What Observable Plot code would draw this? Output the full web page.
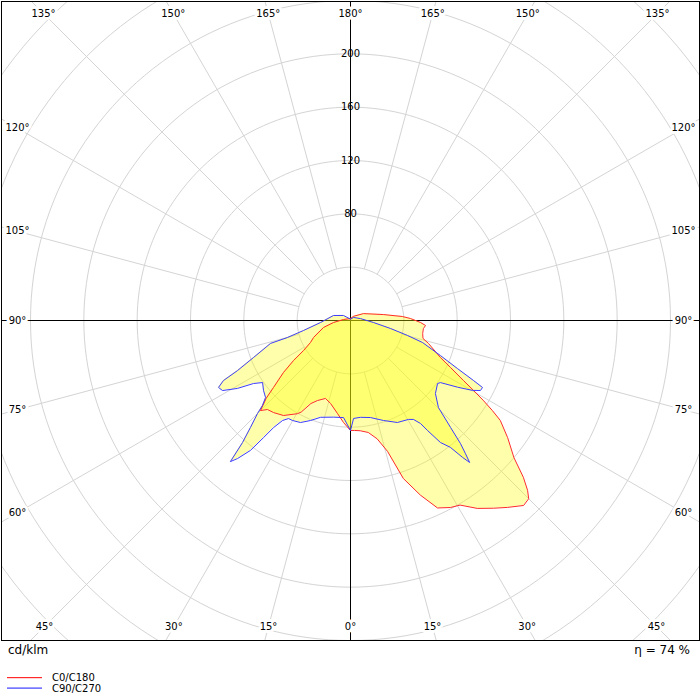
<!DOCTYPE html>
<html>
<head>
<meta charset="utf-8">
<script src="https://cdn.jsdelivr.net/npm/d3@7"></script>
<script src="https://cdn.jsdelivr.net/npm/@observablehq/plot@0.6"></script>
<style>
  html, body { margin: 0; padding: 0; background: #fff; }
  #root { position: relative; width: 700px; height: 700px; font-family: "DejaVu Sans", sans-serif; color: #000; }
  #chart svg { display: block; overflow: hidden; }
  .foot { position: absolute; font-size: 12px; line-height: 14px; white-space: nowrap; }
  #legend { position: absolute; left: 0; top: 668px; }
</style>
</head>
<body>
<div id="root">
  <div id="chart"></div>
  <div class="foot" style="left:8px; top:643px;">cd/klm</div>
  <div class="foot" style="right:10px; top:643px;">η = 74 %</div>
  <div id="legend"></div>
</div>
<script>
// ---- Data (cd/klm vs gamma angle, degrees) ----
// C0 (right half, red)
const gammaC0 = [0,2,5,9,12.7,15.8,18.5,21.8,24.9,28.1,30.7,34,37.3,40,43.1,45,46.2,47.8,50,53.3,56.3,57.6,59,60.4,62,64.8,67.6,73.6,76.1,79.8,83.7,86.2,88.4,91.9,94.4,100.3,118,143,180];
const valuesC0 = [82.5,82.5,83,85,91,102,125,141,155,159,161,170,177,183,190,189,184,175,160,147,135,126,116,106,96,83,73,61,56,55,55,56.4,52.5,45,39,25,11,4,1.5];
// C180 (left half, red)
const gammaC180 = [0,3.9,8,13.5,17.8,22.4,25.5,28.3,29.7,35.2,39.9,43,45,47.3,49,52.2,54.9,57.4,61.2,65.3,75.5,83.3,98,180];
const valuesC180 = [82.5,76.7,70.4,64,61.4,64.9,69,78,80.5,87.2,90,91.3,95.5,86,76.5,63.6,52.2,41.8,34.2,30.5,20.9,12.8,5.3,1.5];
// C90 (right half, blue)
const gammaC90 = [0,1.8,5.9,11.6,18.3,24.7,30.4,32.5,34.2,35,36.4,38.2,39.3,40,40.8,41.8,43.1,45.3,49.3,54.1,55.4,58.1,60.2,61.7,63.1,64,65.8,68.7,73,75.3,78.7,85,101,135,180];
const valuesC90 = [82.5,73.5,73,74.3,79,84.2,86,88,93.4,100.7,113.7,121,132.7,139,132,123.7,109.8,92.8,84,80.6,82,94.7,105.5,110.7,111,102.6,88,72.4,56.5,44.2,30.6,17.3,7.6,3.2,1];
// C270 (left half, blue)
const gammaC270 = [0,4.1,10,17.2,21.8,26.1,30.1,32.3,34.2,35.7,36.6,37.6,39.3,40.4,41.5,43.1,45,46,47.8,51.2,54.8,57,59,61.3,63.1,64.7,66.1,69.1,74,74.9,78,86.2,106.4,125.5,180];
const valuesC270 = [82.5,73,73.6,76,80.8,85.2,86.7,87,90.7,98.9,109.4,123,133.8,139,122.2,109.8,98.6,91.8,86,83.7,80.7,86.8,98.9,109.4,111,105.4,92.7,77.9,62.4,49,36,22.5,13.3,6.5,1];

const ringValues = [40,80,120,160,200,240,280,320,360];
const ringLabels = [80,120,160,200];
const angleTicks = [0,15,30,45,60,75,90,105,120,135,150,165,180];
const seriesNames = ["C0/C180", "C90/C270"];
const seriesColors = ["#ff2a2a", "#3c3cff"];

// ---- Geometry helpers ----
const rad = Math.PI / 180;
const k = 4 / 3; // px per cd/klm
const toXY = (g, v, side) => ({x: side * v * Math.sin(g * rad), y: -v * Math.cos(g * rad)});
function polygon(gR, vR, gL, vL) {
  const pts = gR.map((g, i) => toXY(g, vR[i], 1));
  for (let i = gL.length - 1; i >= 0; i--) pts.push(toXY(gL[i], vL[i], -1));
  return pts;
}
const redPoly = polygon(gammaC0, valuesC0, gammaC180, valuesC180);
const bluePoly = polygon(gammaC90, valuesC90, gammaC270, valuesC270);

const ringPts = ringValues.flatMap(r => d3.range(0, 361, 2).map(a => ({ring: r, x: r * Math.cos(a * rad), y: r * Math.sin(a * rad)})));
const radials = angleTicks.filter(a => a % 90 !== 0).flatMap(a => [1, -1].map(s => ({a, s})));

const xl = 262.5 - 17 / k, yt = 240 - 13 / k, yb = 240 - 14 / k;
const angleLabels = angleTicks.flatMap(a => {
  const sides = (a === 0 || a === 180) ? [1] : [1, -1];
  return sides.map(s => {
    const sx = Math.sin(a * rad), cy = -Math.cos(a * rad);
    const tx = sx > 1e-9 ? xl / sx : Infinity;
    const ty = cy > 1e-9 ? yt / cy : cy < -1e-9 ? yb / -cy : Infinity;
    const t = Math.min(tx, ty);
    return {x: s * t * sx, y: t * cy, label: `${a}°`};
  });
});

const chart = Plot.plot({
  width: 700, height: 641,
  marginTop: 1, marginRight: 1, marginBottom: 1, marginLeft: 1,
  x: {domain: [-262.5, 262.5], range: [0, 700], axis: null},
  y: {domain: [240, -240], range: [0, 640], axis: null},
  style: {fontFamily: "DejaVu Sans", fontSize: "10px", background: "white", overflow: "hidden"},
  marks: [
    Plot.line(ringPts, {x: "x", y: "y", z: "ring", stroke: "#d4d4d4", strokeWidth: 1, clip: true}),
    Plot.link(radials, {
      x1: d => d.s * 40 * Math.sin(d.a * rad), y1: d => -40 * Math.cos(d.a * rad),
      x2: d => d.s * 420 * Math.sin(d.a * rad), y2: d => -420 * Math.cos(d.a * rad),
      stroke: "#d4d4d4", strokeWidth: 1, clip: true
    }),
    Plot.ruleY([0], {stroke: "black"}),
    Plot.ruleX([0], {stroke: "black"}),
    Plot.area(redPoly, {x1: "x", y1: "y", x2: 0, y2: 0, fill: "#ffff00", fillOpacity: 0.33}),
    Plot.area(bluePoly, {x1: "x", y1: "y", x2: 0, y2: 0, fill: "#ffff00", fillOpacity: 0.33}),
    Plot.line(redPoly, {x: "x", y: "y", stroke: seriesColors[0], strokeWidth: 1}),
    Plot.line(bluePoly, {x: "x", y: "y", stroke: seriesColors[1], strokeWidth: 1}),
    Plot.text(ringLabels, {x: 0, y: d => d, text: d => `${d}`, fill: "black", fontSize: 10}),
    Plot.text(angleLabels, {x: "x", y: "y", text: "label", fill: "black", stroke: "white", strokeWidth: 6, fontSize: 10}),
    Plot.frame({stroke: "black"})
  ]
});
document.getElementById("chart").appendChild(chart);

// Legend (plain SVG)
const lg = d3.select("#legend").append("svg")
  .attr("width", 160).attr("height", 28)
  .style("display", "block")
  .style("font-family", "DejaVu Sans, sans-serif")
  .style("font-size", "10px");
const rows = lg.selectAll("g").data(seriesNames).join("g")
  .attr("transform", (d, i) => `translate(0,${9 + i * 10.5})`);
rows.append("rect")
  .attr("x", 7).attr("width", 35).attr("y", 0).attr("height", 1.2)
  .attr("fill", (d, i) => seriesColors[i]);
rows.append("text")
  .attr("x", 52).attr("y", 0.5).attr("dy", "0.35em")
  .text(d => d);
</script>
</body>
</html>
